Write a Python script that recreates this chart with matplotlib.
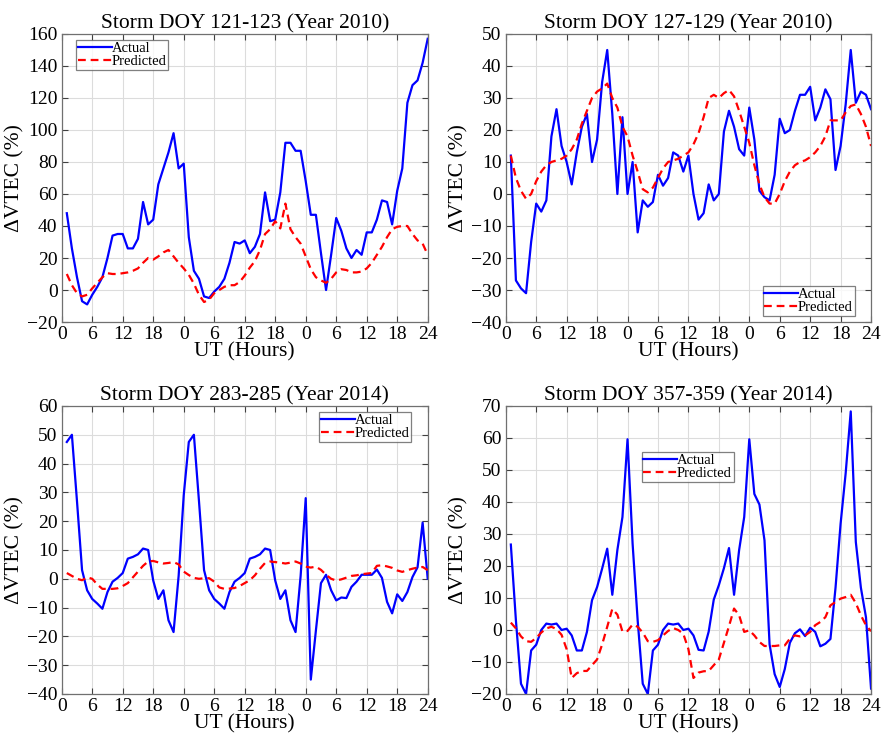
import matplotlib
matplotlib.use("Agg")
import matplotlib.pyplot as plt
import numpy as np

plt.rcParams['font.family'] = ['Liberation Serif', 'DejaVu Serif']
plt.rcParams['mathtext.fontset'] = 'stix'

# hourly samples over three days (UT hour 1 .. 72)
hours = np.arange(1, 73)
xtick_pos = np.arange(0, 73, 6)
xtick_labels = ['0', '6', '12', '18', '0', '6', '12', '18', '0', '6', '12', '18', '24']

# Storm DOY 121-123 (2010)
actual_121 = [48, 26, 8, -7, -9, -3, 2, 8, 20, 34, 35, 35,
              26, 26, 32, 55, 41, 44, 66, 76, 86, 98, 76, 79,
              33, 12, 7, -4, -5, -1, 2, 7, 17, 30, 29, 31,
              23, 27, 35, 61, 43, 44, 61, 92, 92, 87, 87, 68,
              47, 47, 23, 0, 22, 45, 37, 26, 20, 25, 22, 36,
              36, 44, 56, 55, 41, 62, 76, 117, 128, 131, 142, 157]
pred_121 = [10, 3, -2, -4, -3, 1, 4.5, 8, 10.5, 10, 10, 10.5,
            11, 12, 13.5, 17, 20, 19, 21, 23.5, 25, 21, 17, 13.5,
            9.5, 4, -3, -7.5, -6, -2, 0, 2, 3, 3, 5, 9,
            14, 18, 25, 35, 38, 43, 38.5, 54, 38, 33, 29, 21,
            13, 8, 6, 4.5, 7, 11, 13, 12.5, 11, 11, 11.5, 13.5,
            17, 22, 27, 33, 38, 39.5, 40, 40, 35, 31, 29, 22]

# Storm DOY 127-129 (2010)
actual_127 = [12, -27, -29.5, -31, -15, -3, -5.5, -2, 18, 26.5, 15, 10,
              3, 13, 21, 25, 10, 17, 35, 45, 25, 0, 24, 0,
              10, -12, -2, -4, -2.5, 6, 2.6, 5, 13, 12, 7, 12,
              0, -8, -6, 3, -2, 0, 19.5, 26, 21, 14, 12, 27,
              17, 1, -1, -2, 6, 23.5, 19, 20, 26, 31, 31, 33.5,
              23, 27, 32.7, 29.6, 7.5, 15, 28, 45, 28.5, 32, 31, 26.5]
pred_127 = [12, 5, 1, -1.5, 0, 4, 7, 9, 10, 10.5, 11, 12,
            14, 17, 22, 26, 30, 32, 33, 34.5, 30, 27, 21, 18,
            12, 7, 1.5, 0.5, 2, 5, 8, 10, 10.5, 11, 12, 13,
            15.5, 19, 24, 30, 31, 30, 31.5, 32.5, 30.5, 26, 21, 16,
            9, 3, -1, -3, -3, 0, 4, 7, 9, 10, 10.5, 11.5,
            13, 15, 18, 23, 23, 23, 25.5, 27.5, 28, 25, 21, 15]

# Storm DOY 283-285 (2014)
actual_283 = [47.5, 50, 27, 3, -4, -7, -8.6, -10.4, -4.6, -1, 0.3, 2,
              7, 7.6, 8.5, 10.5, 10, -0.6, -7, -4, -14.4, -18.5, 1, 29,
              47.5, 50, 27, 3, -4, -7, -8.6, -10.4, -4.6, -1, 0.3, 2,
              7, 7.6, 8.5, 10.5, 10, -0.6, -7, -4, -14.4, -18.5, 1, 28,
              -35, -18, -1.5, 1.4, -4, -7.5, -6.5, -6.7, -2.8, -1, 1.4, 1.4,
              1.4, 3.2, 0.3, -8, -12, -5.4, -7.7, -4.6, 0.6, 4, 19.5, 0]
pred_283 = [2, 1, 0, -0.5, 0.5, 0, -2, -3.5, -3.5, -3.5, -3.3, -2.5,
            -1.5, 0.5, 2.5, 4.5, 6, 6.2, 5.7, 5.3, 5.5, 5.8, 5, 2.5,
            1.3, 0.3, 0, 0.2, 0.2, -1, -3, -3.5, -3.4, -3.2, -2.5, -1.5,
            -0.5, 1.2, 3.5, 5.5, 6, 5.8, 5.6, 5.3, 5.6, 6, 5.3, 4.2,
            3.9, 4.2, 3.1, 1.4, 0, -0.6, -0.2, 0.4, 1, 1.2, 1.6, 1.8,
            2, 4.5, 4.7, 4.3, 3.8, 2.9, 2.4, 3, 3.5, 3.9, 4.1, 3]

# Storm DOY 357-359 (2014)
actual_357 = [26.7, 3, -16.8, -20, -6.4, -4.6, 0, 2, 1.7, 2, 0, 0.4,
              -1.7, -6.4, -6.4, -0.6, 9.3, 13.4, 19.2, 25.4, 11, 25, 35.3, 59.6,
              27, 3, -16.8, -20, -6.4, -4.6, 0, 2, 1.7, 2, 0, 0.4,
              -1.7, -6.2, -6.4, -0.5, 9.5, 14, 19.3, 25.6, 11, 25, 35.3, 59.6,
              42.5, 39.2, 28, -4.5, -13.8, -17.8, -12.2, -4, -1, 0.2, -1.9, 0.7,
              -0.6, -5.1, -4.3, -2.8, 13.2, 33.2, 49, 68.3, 27.5, 13.2, 4, -18.3]
pred_357 = [2.3, 0.5, -2, -3.5, -3.7, -2.5, -0.8, 0.5, 1, 0.3, -1.5, -6,
            -15, -13.5, -12.8, -12.8, -11, -9.2, -4.5, 1, 6.6, 4.8, -0.5, -0.3,
            1.7, 1, -0.8, -3.5, -3.7, -3.2, -1.7, -0.3, 0.6, 0, -1.2, -6,
            -15, -13.3, -12.9, -12.8, -11, -9.2, -4, 1.2, 6.7, 4.6, -0.6, -0.1,
            -1.7, -3.75, -5, -5, -5, -4.8, -4.8, -2.7, -1.7, -2, -1.7, -0.6,
            1.5, 2.5, 4, 7.7, 8.75, 9.8, 10.3, 11, 8.4, 4.6, 1.5, -0.4]

panels = [
    ('Storm DOY 121-123 (Year 2010)', actual_121, pred_121, (-20, 160), 20,
     dict(loc='upper left', bbox_to_anchor=(0.04, 0.978))),
    ('Storm DOY 127-129 (Year 2010)', actual_127, pred_127, (-40, 50), 10,
     dict(loc='lower right', bbox_to_anchor=(0.955, 0.02))),
    ('Storm DOY 283-285 (Year 2014)', actual_283, pred_283, (-40, 60), 10,
     dict(loc='upper right', bbox_to_anchor=(0.955, 0.98))),
    ('Storm DOY 357-359 (Year 2014)', actual_357, pred_357, (-20, 70), 10,
     dict(loc='upper left', bbox_to_anchor=(0.372, 0.84))),
]

positions = [
    [0.0692, 0.5613, 0.4103, 0.3924],
    [0.5670, 0.5613, 0.4095, 0.3924],
    [0.0692, 0.0545, 0.4103, 0.3924],
    [0.5670, 0.0545, 0.4095, 0.3924],
]

fig = plt.figure(figsize=(8.92, 7.34), dpi=100)

for pos, (title, act, pred, ylim, ystep, leg) in zip(positions, panels):
    ax = fig.add_axes(pos)
    ax.plot(hours, act, color='#0000ff', lw=1.6, label='Actual')
    ax.plot(hours, pred, color='#ff0000', lw=1.6, ls=(0, (3.5, 2.2)), label='Predicted')
    ax.set_xlim(0, 72)
    ax.set_ylim(*ylim)
    ax.set_xticks(xtick_pos)
    ax.set_xticklabels(xtick_labels)
    ax.set_yticks(np.arange(ylim[0], ylim[1] + 1, ystep))
    ax.grid(True, color='#dcdcdc', lw=0.8)
    ax.set_axisbelow(True)
    ax.tick_params(direction='in', top=True, right=True, length=4, width=0.8,
                   labelsize=14, pad=3, color='#404040')
    for s in ax.spines.values():
        s.set_color('#707070')
        s.set_linewidth(0.9)
    ax.set_title(title, fontsize=15.5, pad=4)
    ax.set_xlabel('UT (Hours)', fontsize=15.5, labelpad=-1)
    ax.set_ylabel('ΔVTEC (%)', fontsize=15.5, labelpad=2)
    lg = ax.legend(fontsize=10.5, fancybox=False, handlelength=2.3, handletextpad=0.0,
                   borderpad=0.12, labelspacing=0.0, borderaxespad=0, **leg)
    lg.get_frame().set_edgecolor('#606060')
    lg.get_frame().set_linewidth(0.9)

fig.savefig('out.png', dpi=100)
